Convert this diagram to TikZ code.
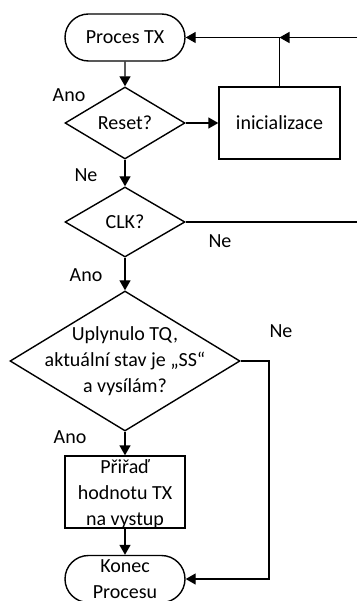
\documentclass[tikz,border=0pt]{standalone}
\usepackage{fontspec}
\setmainfont{Carlito}
\usetikzlibrary{shapes.geometric,shapes.misc,arrows.meta}
\begin{document}
\begin{tikzpicture}[x=1pt,y=-1pt,
  font=\fontsize{20}{26}\selectfont,
  line width=1.4pt,
  terminal/.style={draw, rounded rectangle, minimum width=120pt, minimum height=47pt,
    inner sep=0pt, align=center},
  decision/.style={draw, diamond, inner sep=0pt},
  process/.style={draw, rectangle, inner sep=0pt},
  flow/.style={-{Triangle[length=10pt,width=11pt]}},
  tag/.style={inner sep=0pt}
]
\useasboundingbox (0,0) rectangle (357,601);

% blocks of the flow chart
\node[terminal] (start) at (125,37.5) {Proces TX};
\node[decision, minimum width=120pt, minimum height=72pt] (reset) at (125,123) {Reset?};
\node[process, minimum width=121pt, minimum height=72pt] (init) at (279.5,123) {inicializace};
\node[decision, minimum width=120pt, minimum height=70pt] (clk) at (125,222) {CLK?};
\node[decision, minimum width=230pt, minimum height=140pt,
  label={[align=center]center:{Uplynulo TQ,\\aktuální stav je „SS“\\a vysílám?}}] (tq) at (125,361) {};
\node[process, minimum width=120pt, minimum height=72pt,
  label={[align=center,yshift=-2pt]center:{Přiřaď\\hodnotu TX\\na vystup}}] (assign) at (125,492) {};
\node[terminal] (stop) at (125,579) {Konec\\Procesu};

% branch labels
\node[tag] (a1) at (69,95) {Ano};
\node[tag] (n1) at (86,175) {Ne};
\node[tag] (n2) at (220,241) {Ne};
\node[tag] (a2) at (86,275) {Ano};
\node[tag] (n3) at (281,331) {Ne};
\node[tag] (a3) at (70,437) {Ano};

% connector points
\coordinate (inR) at (357,37.5);
\coordinate (join) at (init.north |- start.east);
\coordinate (clkR) at (357,222);
\coordinate (rail) at (269,361);

% connectors
\draw[flow] (start) -- (reset);
\draw[flow] (reset) -- (init);
\draw (init.north) -- (join);
\draw[flow] (inR) -- (join);
\draw[flow] (join) -- (start.east);
\draw[flow] (reset) -- (clk);
\draw (clk.east) -- (clkR);
\draw[flow] (clk) -- (tq);
\draw[flow] (tq) -- (assign);
\draw[flow] (assign) -- (stop);
\draw[flow] (tq.east) -- (rail) |- (stop.east);
\end{tikzpicture}
\end{document}
